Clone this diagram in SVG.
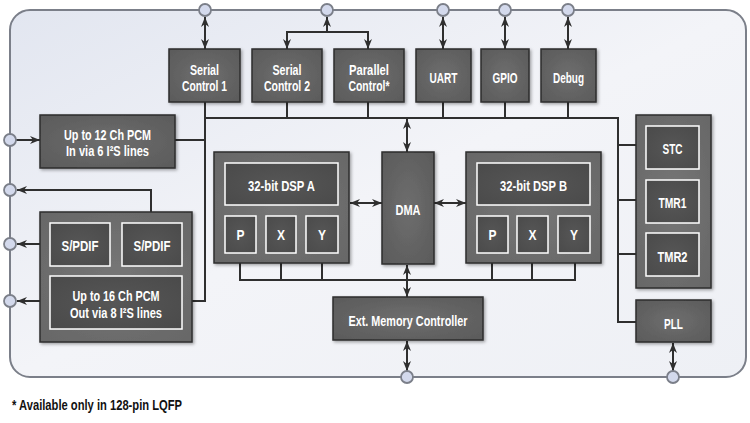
<svg xmlns="http://www.w3.org/2000/svg" width="750" height="423" viewBox="0 0 750 423">
<defs>
<linearGradient id="bg" x1="0" y1="0" x2="1" y2="1">
<stop offset="0" stop-color="#e2e6f0"/>
<stop offset="0.5" stop-color="#f3f4f8"/>
<stop offset="1" stop-color="#eef0f5"/>
</linearGradient>
<radialGradient id="gBlk" cx="0.5" cy="0.5" r="0.7">
<stop offset="0" stop-color="#6e6e6e"/>
<stop offset="1" stop-color="#5a5a5a"/>
</radialGradient>
<radialGradient id="gCont" cx="0.5" cy="0.5" r="0.7">
<stop offset="0" stop-color="#767676"/>
<stop offset="1" stop-color="#676767"/>
</radialGradient>
<radialGradient id="gIn" cx="0.5" cy="0.5" r="0.7">
<stop offset="0" stop-color="#565656"/>
<stop offset="1" stop-color="#4a4a4a"/>
</radialGradient>
<filter id="sh" x="-10%" y="-10%" width="130%" height="130%">
<feDropShadow dx="1.5" dy="1.5" stdDeviation="1.5" flood-color="#000" flood-opacity="0.35"/>
</filter>
<marker id="ah" viewBox="0 0 10 8" refX="10" refY="4" markerWidth="10" markerHeight="8" markerUnits="userSpaceOnUse" orient="auto-start-reverse">
<path d="M0,0 L10,4 L0,8 L3,4 z" fill="#2f2f2f"/>
</marker>
</defs>
<style>
.blk{fill:url(#gBlk);stroke:#2e2e2e;stroke-width:1.5;filter:url(#sh)}
.cont{fill:url(#gCont);stroke:#2e2e2e;stroke-width:1.5;filter:url(#sh)}
.in{fill:url(#gIn);stroke:#ffffff;stroke-width:1.5}
.t{font-family:"Liberation Sans",Arial,sans-serif;font-weight:bold;font-size:15px;fill:#ffffff;text-anchor:middle}
.t2{font-size:14px}
.c{fill:none;stroke:#2f2f2f;stroke-width:2}
.a{marker-end:url(#ah)}
.d{marker-start:url(#ah);marker-end:url(#ah)}
.s{marker-start:url(#ah)}
.port{fill:#d3d9ec;stroke:#7b7f89;stroke-width:1.8}
.fn{font-family:"Liberation Sans",Arial,sans-serif;font-weight:bold;font-size:15px;fill:#111111}
</style>
<rect x="0" y="0" width="750" height="423" fill="#ffffff"/>
<g id="chip">
<rect x="10" y="10" width="736" height="367" rx="20" ry="20" fill="url(#bg)" stroke="#7b7f89" stroke-width="2"/>
</g>
<g id="connectors">
<line class="c d" x1="205" y1="17" x2="205" y2="49"/>
<line class="c s" x1="327" y1="17" x2="327" y2="32"/>
<polyline class="c" points="287,32 368,32"/>
<line class="c a" x1="287" y1="31" x2="287" y2="49"/>
<line class="c a" x1="368" y1="31" x2="368" y2="49"/>
<line class="c d" x1="443" y1="17" x2="443" y2="49"/>
<line class="c d" x1="505" y1="17" x2="505" y2="49"/>
<line class="c d" x1="568" y1="17" x2="568" y2="49"/>
<polyline class="c" points="205,102 205,301 192,301"/>
<polyline class="c" points="205,118 618,118 618,322 636,322"/>
<line class="c" x1="287" y1="102" x2="287" y2="118"/>
<line class="c" x1="368" y1="102" x2="368" y2="118"/>
<line class="c" x1="443" y1="102" x2="443" y2="118"/>
<line class="c" x1="505" y1="102" x2="505" y2="118"/>
<line class="c" x1="568" y1="102" x2="568" y2="118"/>
<line class="c" x1="618" y1="145" x2="646" y2="145"/>
<line class="c" x1="618" y1="200" x2="646" y2="200"/>
<line class="c" x1="618" y1="254" x2="646" y2="254"/>
<line class="c" x1="175" y1="140" x2="205" y2="140"/>
<line class="c a" x1="16" y1="140" x2="40" y2="140"/>
<polyline class="c a" points="151,223 151,190 17,190"/>
<line class="c a" x1="40" y1="244" x2="17" y2="244"/>
<line class="c a" x1="40" y1="301" x2="17" y2="301"/>
<line class="c" x1="240" y1="253" x2="240" y2="280"/>
<line class="c" x1="281" y1="253" x2="281" y2="280"/>
<line class="c" x1="322" y1="253" x2="322" y2="280"/>
<line class="c" x1="492" y1="253" x2="492" y2="280"/>
<line class="c" x1="532" y1="253" x2="532" y2="280"/>
<line class="c" x1="575" y1="253" x2="575" y2="280"/>
<line class="c" x1="239" y1="280" x2="576" y2="280"/>
<line class="c d" x1="350" y1="203" x2="382" y2="203"/>
<line class="c d" x1="434" y1="203" x2="466" y2="203"/>
<line class="c d" x1="407" y1="119" x2="407" y2="152"/>
<line class="c d" x1="407" y1="265" x2="407" y2="297"/>
<line class="c d" x1="407" y1="341" x2="407" y2="371"/>
<line class="c d" x1="673" y1="343" x2="673" y2="371"/>
</g>
<g id="ports">
<circle class="port" cx="205" cy="10" r="6"/>
<circle class="port" cx="327" cy="10" r="6"/>
<circle class="port" cx="443" cy="10" r="6"/>
<circle class="port" cx="505" cy="10" r="6"/>
<circle class="port" cx="568" cy="10" r="6"/>
<circle class="port" cx="10" cy="140" r="6"/>
<circle class="port" cx="10" cy="190" r="6"/>
<circle class="port" cx="10" cy="244" r="6"/>
<circle class="port" cx="10" cy="301" r="6"/>
<circle class="port" cx="407" cy="377" r="6"/>
<circle class="port" cx="673" cy="377" r="6"/>
</g>
<g id="serial1">
<rect class="blk" x="169" y="49" width="71" height="53"/>
<text class="t" x="204.5" y="75" textLength="29" lengthAdjust="spacingAndGlyphs">Serial</text>
<text class="t" x="204.5" y="90.5" textLength="45" lengthAdjust="spacingAndGlyphs">Control 1</text>
</g>
<g id="serial2">
<rect class="blk" x="252" y="49" width="70" height="53"/>
<text class="t" x="287" y="75" textLength="29" lengthAdjust="spacingAndGlyphs">Serial</text>
<text class="t" x="287" y="90.5" textLength="46" lengthAdjust="spacingAndGlyphs">Control 2</text>
</g>
<g id="parallel">
<rect class="blk" x="334" y="49" width="70" height="53"/>
<text class="t" x="369" y="75" textLength="40" lengthAdjust="spacingAndGlyphs">Parallel</text>
<text class="t" x="369" y="90.5" textLength="41" lengthAdjust="spacingAndGlyphs">Control*</text>
</g>
<g id="uart">
<rect class="blk" x="416" y="49" width="55" height="53"/>
<text class="t" x="443.5" y="83" textLength="28" lengthAdjust="spacingAndGlyphs">UART</text>
</g>
<g id="gpio">
<rect class="blk" x="481" y="49" width="48" height="53"/>
<text class="t" x="505" y="83" textLength="25" lengthAdjust="spacingAndGlyphs">GPIO</text>
</g>
<g id="debug">
<rect class="blk" x="541" y="49" width="55" height="53"/>
<text class="t" x="568.5" y="83" textLength="31" lengthAdjust="spacingAndGlyphs">Debug</text>
</g>
<g id="pcm-in">
<rect class="blk" x="40" y="115" width="135" height="53"/>
<text class="t t2" x="107.5" y="139.5" textLength="87" lengthAdjust="spacingAndGlyphs">Up to 12 Ch PCM</text>
<text class="t t2" x="107.5" y="156" textLength="83" lengthAdjust="spacingAndGlyphs">In via 6 I²S lines</text>
</g>
<g id="output">
<rect class="cont" x="40" y="212" width="152" height="130"/>
<g id="spdif1">
<rect class="in" x="50" y="223" width="60" height="43"/>
<text class="t" x="80" y="251" textLength="37" lengthAdjust="spacingAndGlyphs">S/PDIF</text>
</g>
<g id="spdif2">
<rect class="in" x="122" y="223" width="60" height="43"/>
<text class="t" x="152" y="251" textLength="37" lengthAdjust="spacingAndGlyphs">S/PDIF</text>
</g>
<g id="pcm-out">
<rect class="in" x="50" y="276" width="132" height="53"/>
<text class="t t2" x="116" y="301" textLength="87" lengthAdjust="spacingAndGlyphs">Up to 16 Ch PCM</text>
<text class="t t2" x="116" y="318" textLength="92" lengthAdjust="spacingAndGlyphs">Out via 8 I²S lines</text>
</g>
</g>
<g id="dspA">
<rect class="cont" x="214" y="152" width="135" height="111"/>
<rect class="in" x="225" y="163" width="113" height="42"/>
<text class="t" x="281.5" y="190.5" textLength="67" lengthAdjust="spacingAndGlyphs">32-bit DSP A</text>
<rect class="in" x="225" y="216" width="31" height="37"/>
<text class="t" x="240.5" y="240" textLength="8" lengthAdjust="spacingAndGlyphs">P</text>
<rect class="in" x="266" y="216" width="30" height="37"/>
<text class="t" x="281" y="240" textLength="8" lengthAdjust="spacingAndGlyphs">X</text>
<rect class="in" x="306" y="216" width="32" height="37"/>
<text class="t" x="322" y="240" textLength="8" lengthAdjust="spacingAndGlyphs">Y</text>
</g>
<g id="dma">
<rect class="blk" x="382" y="152" width="52" height="112"/>
<text class="t" x="408" y="215" textLength="25" lengthAdjust="spacingAndGlyphs">DMA</text>
</g>
<g id="dspB">
<rect class="cont" x="466" y="152" width="135" height="111"/>
<rect class="in" x="477" y="163" width="113" height="42"/>
<text class="t" x="533.5" y="190.5" textLength="67" lengthAdjust="spacingAndGlyphs">32-bit DSP B</text>
<rect class="in" x="477" y="216" width="31" height="37"/>
<text class="t" x="492.5" y="240" textLength="8" lengthAdjust="spacingAndGlyphs">P</text>
<rect class="in" x="517" y="216" width="31" height="37"/>
<text class="t" x="532.5" y="240" textLength="8" lengthAdjust="spacingAndGlyphs">X</text>
<rect class="in" x="558" y="216" width="32" height="37"/>
<text class="t" x="574" y="240" textLength="8" lengthAdjust="spacingAndGlyphs">Y</text>
</g>
<g id="extmem">
<rect class="blk" x="333" y="297" width="150" height="43"/>
<text class="t" x="408" y="326" textLength="119" lengthAdjust="spacingAndGlyphs">Ext. Memory Controller</text>
</g>
<g id="timers">
<rect class="cont" x="636" y="115" width="75" height="173"/>
<rect class="in" x="646" y="126" width="53" height="43"/>
<text class="t" x="672.5" y="154" textLength="20" lengthAdjust="spacingAndGlyphs">STC</text>
<rect class="in" x="646" y="180" width="53" height="43"/>
<text class="t" x="672.5" y="208" textLength="28" lengthAdjust="spacingAndGlyphs">TMR1</text>
<rect class="in" x="646" y="233" width="53" height="43"/>
<text class="t" x="672.5" y="261.5" textLength="30" lengthAdjust="spacingAndGlyphs">TMR2</text>
</g>
<g id="pll">
<rect class="blk" x="636" y="300" width="75" height="42"/>
<text class="t" x="673.5" y="329" textLength="19" lengthAdjust="spacingAndGlyphs">PLL</text>
</g>
<text class="fn" x="12" y="410" textLength="170" lengthAdjust="spacingAndGlyphs">* Available only in 128-pin LQFP</text>
</svg>
